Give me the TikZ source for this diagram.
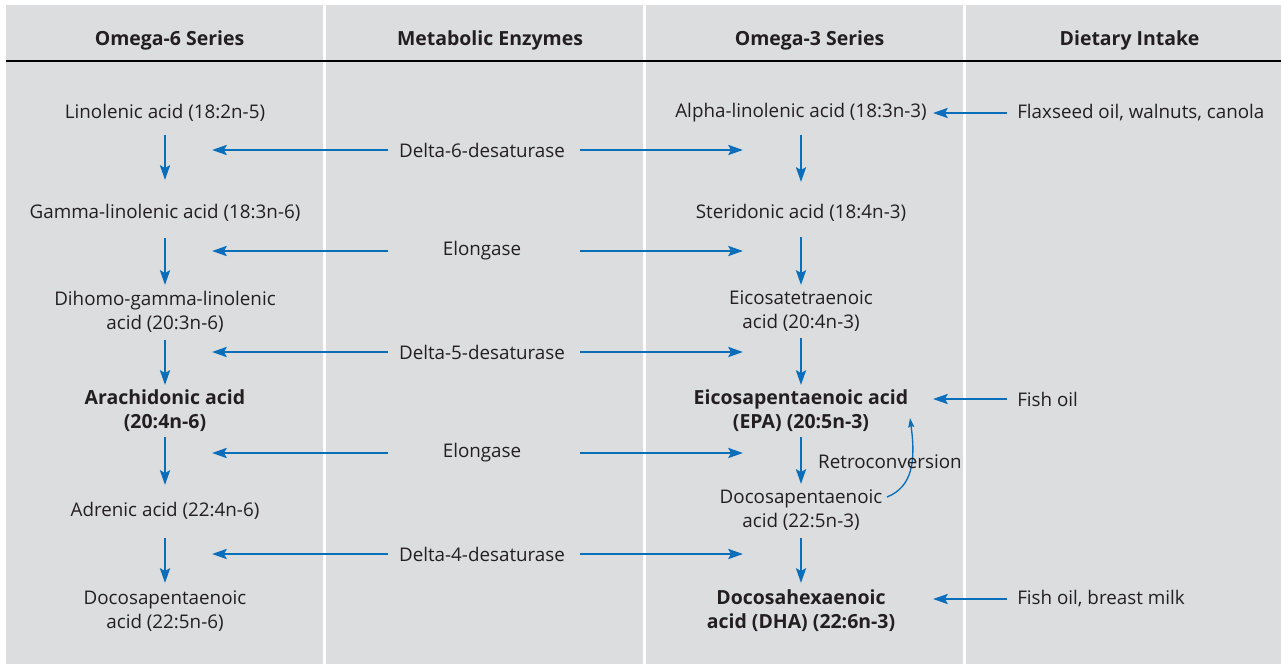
\documentclass[tikz,border=0pt]{standalone}
\usepackage{fontspec}
\setmainfont{Open Sans}
\usetikzlibrary{arrows.meta}

\definecolor{panelgray}{HTML}{DCDDDF}
\definecolor{flowblue}{HTML}{0A6EBA}
\definecolor{inkgray}{HTML}{231F20}

\tikzset{
  every node/.style={font=\fontsize{14.1}{18}\selectfont, text=inkgray, inner sep=0pt},
  colhead/.style={font=\fontsize{14.6}{18}\selectfont\bfseries},
  acid/.style={align=center},
  keyacid/.style={align=center, font=\fontsize{14.6}{18}\selectfont\bfseries},
  flow/.style={draw=flowblue, line width=1.9pt, -{Stealth[length=11pt,width=7.5pt,inset=2pt]}},
  retro/.style={draw=flowblue, line width=1pt, -{Stealth[length=7pt,width=4.5pt,inset=1pt]}}
}

\begin{document}
\begin{tikzpicture}[x=0.75pt,y=-0.75pt]
\useasboundingbox (0,0) rectangle (1281,664);
\fill[white] (0,0) rectangle (1281,664);
\fill[panelgray] (6,5) rectangle (1281,664);

% column separators and header rule
\foreach \sx in {324.5,644.5,964.5}
  \draw[white, line width=2.4pt] (\sx,5) -- (\sx,664);
\draw[black, line width=1.6pt] (6,61) -- (1281,61);

\node[colhead] (h1) at (169.5,40) {Omega-6 Series};
\node[colhead] (h2) at (490,40) {Metabolic Enzymes};
\node[colhead] (h3) at (809.5,40) {Omega-3 Series};
\node[colhead] (h4) at (1129.5,40) {Dietary Intake};

% omega-6 series
\node[acid] (a1) at (165,113) {Linolenic acid (18:2n-5)};
\node[acid] (a2) at (165,213) {Gamma-linolenic acid (18:3n-6)};
\node[acid] (a3) at (165,312) {Dihomo-gamma-linolenic\\acid (20:3n-6)};
\node[keyacid] (a4) at (165,411) {Arachidonic acid\\(20:4n-6)};
\node[acid] (a5) at (165,511) {Adrenic acid (22:4n-6)};
\node[acid] (a6) at (165,611) {Docosapentaenoic\\acid (22:5n-6)};

% omega-3 series
\node[acid] (b1) at (801,113) {Alpha-linolenic acid (18:3n-3)};
\node[acid] (b2) at (801,213) {Steridonic acid (18:4n-3)};
\node[acid] (b3) at (801,311.5) {Eicosatetraenoic\\acid (20:4n-3)};
\node[keyacid] (b4) at (801,411) {Eicosapentaenoic acid\\(EPA) (20:5n-3)};
\node[acid] (b5) at (801,510) {Docosapentaenoic\\acid (22:5n-3)};
\node[keyacid] (b6) at (801,611) {Docosahexaenoic\\acid (DHA) (22:6n-3)};

% enzymes
\node (e1) at (482,150) {Delta-6-desaturase};
\node (e2) at (482,251) {Elongase};
\node (e3) at (482,352) {Delta-5-desaturase};
\node (e4) at (482,453) {Elongase};
\node (e5) at (482,554) {Delta-4-desaturase};

% dietary sources
\node[anchor=west] (f1) at (1017,113) {Flaxseed oil, walnuts, canola};
\node[anchor=west] (f4) at (1017,399) {Fish oil};
\node[anchor=west] (f6) at (1017,599) {Fish oil, breast milk};

\coordinate (lhead) at (212,0);
\coordinate (ltail) at (388,0);
\coordinate (rtail) at (580,0);
\coordinate (rhead) at (743,0);
\coordinate (dtail) at (1007,0);
\coordinate (dhead) at (933,0);

\foreach \i/\j/\s/\e in {1/2/16.5/24.75,2/3/18.75/20.25,3/4/21/19.5,4/5/19.5/19.5,5/6/20.25/21}
  \draw[flow, shorten <=\s pt, shorten >=\e pt] (a\i.center) -- (a\j.center);
\foreach \i/\j/\s/\e in {1/2/16.5/23.25,2/3/18/19.9,3/4/19.9/19.5,4/5/19.5/19.5,5/6/21/21}
  \draw[flow, shorten <=\s pt, shorten >=\e pt] (b\i.center) -- (b\j.center);

\foreach \k in {1,...,5}{
  \draw[flow] (e\k -| ltail) -- (e\k -| lhead);
  \draw[flow] (e\k -| rtail) -- (e\k -| rhead);
}

\draw[flow] (f1 -| dtail) -- (f1 -| dhead);
\draw[flow] (f4 -| dtail) -- (f4 -| dhead);
\draw[flow] (f6 -| dtail) -- (f6 -| dhead);

% retroconversion
\coordinate (rc0) at (887,497);
\coordinate (rc1) at (910,418);
\draw[retro] (rc0) .. controls (912,487) and (916,462) .. (rc1);
\node (rc) at (890,462) {Retroconversion};

\end{tikzpicture}
\end{document}
